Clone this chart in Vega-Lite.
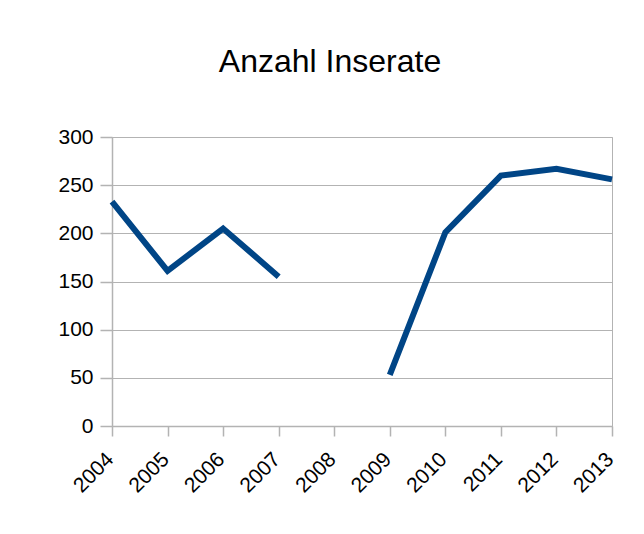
{
  "$schema": "https://vega.github.io/schema/vega-lite/v6.json",
  "width": 500,
  "height": 289,
  "autosize": {"type": "none"},
  "padding": {"left": 112, "top": 137, "right": 32, "bottom": 108},
  "background": "white",
  "title": {
    "text": "Anzahl Inserate",
    "font": "Liberation Sans",
    "fontSize": 32,
    "fontWeight": "normal",
    "color": "#000000",
    "anchor": "middle",
    "dx": -32,
    "offset": 47
  },
  "data": {
    "values": [
      {"Jahr": 2004, "Anzahl": 233},
      {"Jahr": 2005, "Anzahl": 161},
      {"Jahr": 2006, "Anzahl": 205},
      {"Jahr": 2007, "Anzahl": 155},
      {"Jahr": 2008, "Anzahl": null},
      {"Jahr": 2009, "Anzahl": 53},
      {"Jahr": 2010, "Anzahl": 201},
      {"Jahr": 2011, "Anzahl": 260},
      {"Jahr": 2012, "Anzahl": 267},
      {"Jahr": 2013, "Anzahl": 256}
    ]
  },
  "mark": {"type": "line", "color": "#004586", "strokeWidth": 6, "invalid": "break-paths-show-domains", "strokeJoin": "miter", "strokeCap": "butt"},
  "encoding": {
    "x": {
      "field": "Jahr",
      "type": "quantitative",
      "scale": {"domain": [2004, 2013], "nice": false, "zero": false},
      "axis": {
        "title": null,
        "values": [2004, 2005, 2006, 2007, 2008, 2009, 2010, 2011, 2012, 2013],
        "format": "d",
        "labelAngle": -45,
        "labelAlign": "right",
        "labelBaseline": "middle",
        "labelFont": "Liberation Sans",
        "labelFontSize": 21,
        "labelColor": "#000000",
        "labelPadding": 20,
        "labelOffset": -2,
        "domainColor": "#b3b3b3",
        "tickColor": "#b3b3b3",
        "tickSize": 10,
        "grid": false,
        "labelFlush": false,
        "labelOverlap": false
      }
    },
    "y": {
      "field": "Anzahl",
      "type": "quantitative",
      "scale": {"domain": [0, 300], "nice": false},
      "axis": {
        "title": null,
        "values": [0, 50, 100, 150, 200, 250, 300],
        "labelFont": "Liberation Sans",
        "labelFontSize": 21,
        "labelColor": "#000000",
        "labelPadding": 7,
        "domainColor": "#b3b3b3",
        "tickColor": "#b3b3b3",
        "tickSize": 12,
        "gridColor": "#b3b3b3",
        "gridOpacity": 1,
        "labelFlush": false
      }
    }
  },
  "config": {
    "view": {"stroke": "#b3b3b3", "strokeWidth": 1},
    "axis": {"domainWidth": 1.5, "tickWidth": 1.5}
  }
}
